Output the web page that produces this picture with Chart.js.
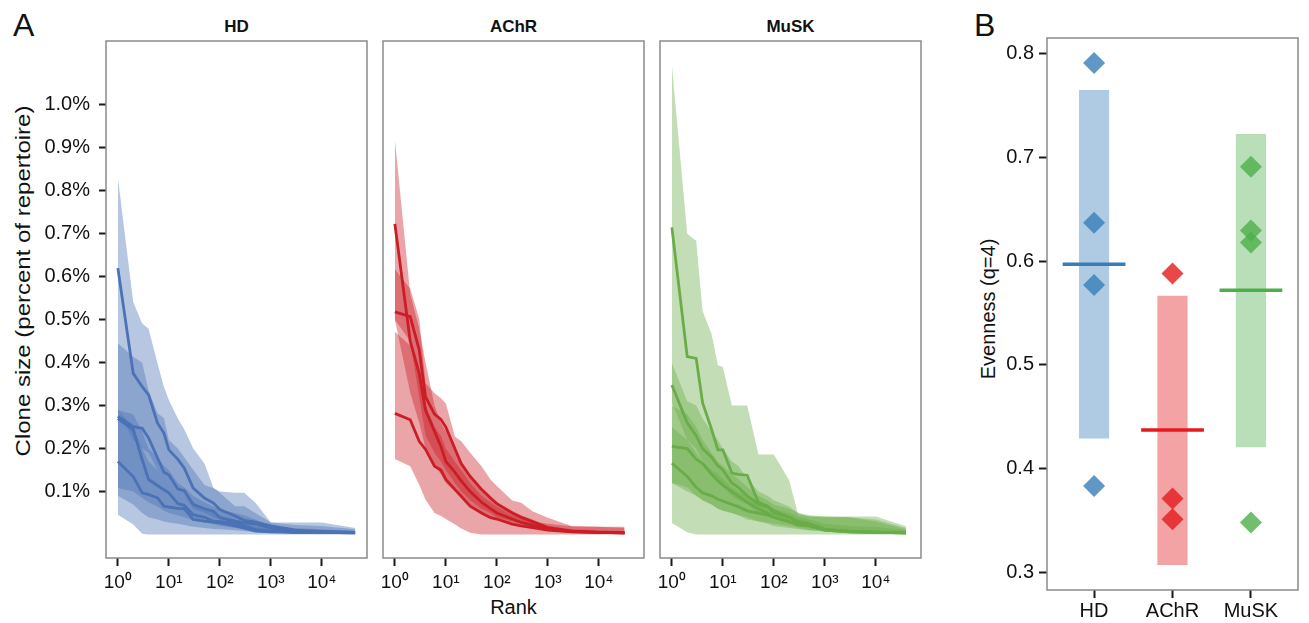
<!DOCTYPE html>
<html>
<head>
<meta charset="utf-8">
<script src="https://cdn.jsdelivr.net/npm/chart.js@4.4.1/dist/chart.umd.min.js"></script>
<style>
  html, body { margin: 0; padding: 0; background: #fff; }
  body { width: 1309px; height: 623px; position: relative; overflow: hidden;
         font-family: "Liberation Sans", Arial, Helvetica, sans-serif; color: #111; }
  .pane { position: absolute; top: 0; }
  .txt { position: absolute; line-height: 1; white-space: nowrap; }
  .strip { position: absolute; top: 18px; font-size: 17px; font-weight: bold; text-align: center; line-height: 1; }
</style>
</head>
<body>
<div class="txt" style="left:13px;top:9px;font-size:32px;">A</div>
<div class="txt" style="left:974px;top:9px;font-size:32px;">B</div>
<div class="strip" style="left:106px;width:261px;">HD</div>
<div class="strip" style="left:383px;width:261px;">AChR</div>
<div class="strip" style="left:660px;width:261px;">MuSK</div>
<div class="txt" style="left:383px;width:261px;top:597px;font-size:20px;text-align:center;">Rank</div>
<div class="txt" style="left:23px;top:281px;font-size:20px;transform:translate(-50%,-50%) rotate(-90deg) scaleX(1.2);">Clone size (percent of repertoire)</div>
<div class="txt" style="left:988px;top:309px;font-size:20px;transform:translate(-50%,-50%) rotate(-90deg);">Evenness (q=4)</div>

<div class="pane" style="left:0px;"><canvas id="hd" width="372" height="623"></canvas></div>
<div class="pane" style="left:372px;"><canvas id="achr" width="277" height="623"></canvas></div>
<div class="pane" style="left:649px;"><canvas id="musk" width="277" height="623"></canvas></div>
<div class="pane" style="left:940px;"><canvas id="even" width="369" height="623"></canvas></div>

<script>
// ---- rank / clone size data (percent of repertoire), one row per subject ----
const rankHD   = [1, 2, 3, 4, 6, 8, 10, 15, 20, 30, 50, 75, 100, 200, 300, 500, 1000, 3000, 10000, 45000];
const rankAChR = [1, 2, 3, 4, 6, 8, 10, 15, 20, 30, 50, 75, 100, 200, 300, 500, 1000, 3000, 10000, 32000];
const rankMuSK = [1, 2, 3, 4, 6, 8, 10, 15, 20, 30, 50, 75, 100, 200, 300, 500, 1000, 3000, 10000, 39000];

const hdSize = [
  [0.620, 0.375, 0.344, 0.325, 0.259, 0.236, 0.197, 0.175, 0.155, 0.108, 0.085, 0.073, 0.058, 0.043, 0.033, 0.029, 0.020, 0.010, 0.007, 0.005],
  [0.275, 0.251, 0.247, 0.225, 0.178, 0.145, 0.139, 0.106, 0.102, 0.070, 0.060, 0.054, 0.039, 0.031, 0.027, 0.025, 0.015, 0.008, 0.006, 0.005],
  [0.270, 0.244, 0.174, 0.128, 0.114, 0.104, 0.097, 0.072, 0.068, 0.046, 0.040, 0.031, 0.030, 0.027, 0.020, 0.012, 0.008, 0.005, 0.005, 0.004],
  [0.170, 0.135, 0.097, 0.093, 0.085, 0.066, 0.064, 0.061, 0.060, 0.035, 0.031, 0.029, 0.027, 0.020, 0.015, 0.008, 0.006, 0.005, 0.005, 0.004]
];
const hdHigh = [
  [0.831, 0.541, 0.491, 0.479, 0.398, 0.344, 0.313, 0.270, 0.245, 0.200, 0.165, 0.108, 0.100, 0.097, 0.097, 0.074, 0.028, 0.028, 0.028, 0.015],
  [0.445, 0.414, 0.400, 0.336, 0.282, 0.271, 0.220, 0.200, 0.180, 0.151, 0.115, 0.108, 0.097, 0.066, 0.066, 0.050, 0.028, 0.022, 0.020, 0.012],
  [0.290, 0.280, 0.240, 0.200, 0.180, 0.160, 0.150, 0.120, 0.110, 0.090, 0.075, 0.065, 0.058, 0.050, 0.045, 0.035, 0.020, 0.015, 0.012, 0.008],
  [0.290, 0.250, 0.200, 0.170, 0.150, 0.130, 0.120, 0.100, 0.090, 0.070, 0.060, 0.050, 0.045, 0.035, 0.030, 0.025, 0.015, 0.010, 0.008, 0.006]
];
const hdLow = [
  [0.290, 0.220, 0.200, 0.190, 0.150, 0.130, 0.120, 0.100, 0.090, 0.060, 0.050, 0.040, 0.035, 0.028, 0.022, 0.015, 0.010, 0.007, 0.005, 0.004],
  [0.108, 0.100, 0.085, 0.075, 0.065, 0.055, 0.050, 0.045, 0.040, 0.032, 0.028, 0.024, 0.020, 0.015, 0.012, 0.010, 0.007, 0.005, 0.004, 0.003],
  [0.090, 0.070, 0.050, 0.040, 0.035, 0.030, 0.028, 0.025, 0.022, 0.018, 0.015, 0.013, 0.012, 0.010, 0.008, 0.006, 0.005, 0.004, 0.003, 0.002],
  [0.046, 0.023, 0.002, 0, 0, 0, 0, 0, 0, 0, 0, 0, 0, 0, 0, 0, 0, 0, 0, 0]
];

const achrSize = [
  [0.723, 0.450, 0.375, 0.289, 0.240, 0.205, 0.170, 0.145, 0.125, 0.100, 0.075, 0.060, 0.050, 0.036, 0.028, 0.022, 0.012, 0.007, 0.005, 0.004],
  [0.518, 0.507, 0.430, 0.320, 0.280, 0.268, 0.250, 0.200, 0.165, 0.135, 0.105, 0.085, 0.072, 0.050, 0.040, 0.030, 0.016, 0.008, 0.005, 0.004],
  [0.282, 0.267, 0.217, 0.198, 0.159, 0.150, 0.128, 0.105, 0.089, 0.066, 0.050, 0.039, 0.036, 0.024, 0.020, 0.016, 0.010, 0.006, 0.005, 0.004]
];
const achrHigh = [
  [0.920, 0.560, 0.480, 0.400, 0.300, 0.260, 0.240, 0.200, 0.170, 0.140, 0.110, 0.090, 0.075, 0.055, 0.045, 0.035, 0.020, 0.012, 0.010, 0.008],
  [0.618, 0.572, 0.503, 0.352, 0.329, 0.317, 0.305, 0.228, 0.217, 0.190, 0.159, 0.128, 0.113, 0.079, 0.074, 0.054, 0.039, 0.019, 0.018, 0.018],
  [0.472, 0.440, 0.380, 0.300, 0.250, 0.230, 0.200, 0.170, 0.150, 0.120, 0.090, 0.075, 0.065, 0.045, 0.040, 0.030, 0.025, 0.019, 0.018, 0.015]
];
const achrLow = [
  [0.500, 0.330, 0.260, 0.200, 0.160, 0.140, 0.120, 0.100, 0.085, 0.065, 0.050, 0.040, 0.035, 0.025, 0.020, 0.015, 0.010, 0.006, 0.004, 0.003],
  [0.500, 0.450, 0.320, 0.230, 0.190, 0.170, 0.150, 0.120, 0.100, 0.080, 0.060, 0.050, 0.040, 0.030, 0.025, 0.018, 0.012, 0.007, 0.005, 0.003],
  [0.176, 0.159, 0.116, 0.081, 0.050, 0.043, 0.036, 0.024, 0.014, 0.004, 0, 0, 0, 0, 0, 0, 0, 0, 0, 0]
];

const muskSize = [
  [0.715, 0.414, 0.410, 0.307, 0.245, 0.197, 0.197, 0.143, 0.140, 0.138, 0.074, 0.066, 0.055, 0.040, 0.030, 0.024, 0.012, 0.008, 0.006, 0.004],
  [0.348, 0.260, 0.230, 0.200, 0.180, 0.160, 0.150, 0.120, 0.110, 0.090, 0.070, 0.065, 0.050, 0.040, 0.030, 0.025, 0.012, 0.007, 0.005, 0.004],
  [0.205, 0.200, 0.175, 0.165, 0.140, 0.125, 0.115, 0.100, 0.090, 0.075, 0.060, 0.050, 0.040, 0.030, 0.022, 0.020, 0.010, 0.006, 0.005, 0.004],
  [0.166, 0.135, 0.110, 0.097, 0.090, 0.082, 0.078, 0.070, 0.065, 0.055, 0.050, 0.045, 0.040, 0.030, 0.025, 0.020, 0.010, 0.006, 0.005, 0.004]
];
const muskHigh = [
  [1.094, 0.700, 0.684, 0.520, 0.467, 0.394, 0.390, 0.300, 0.300, 0.300, 0.186, 0.186, 0.186, 0.126, 0.046, 0.042, 0.042, 0.042, 0.042, 0.019],
  [0.400, 0.310, 0.300, 0.270, 0.240, 0.220, 0.200, 0.170, 0.160, 0.130, 0.100, 0.090, 0.080, 0.065, 0.050, 0.042, 0.040, 0.040, 0.035, 0.015],
  [0.300, 0.280, 0.250, 0.220, 0.190, 0.170, 0.160, 0.140, 0.130, 0.110, 0.090, 0.080, 0.070, 0.060, 0.050, 0.045, 0.042, 0.040, 0.030, 0.012],
  [0.250, 0.220, 0.190, 0.170, 0.150, 0.140, 0.130, 0.110, 0.100, 0.090, 0.080, 0.070, 0.060, 0.050, 0.040, 0.035, 0.025, 0.020, 0.018, 0.010]
];
const muskLow = [
  [0.307, 0.220, 0.200, 0.170, 0.140, 0.120, 0.110, 0.090, 0.080, 0.070, 0.050, 0.045, 0.040, 0.030, 0.020, 0.015, 0.010, 0.007, 0.005, 0.004],
  [0.120, 0.100, 0.090, 0.080, 0.070, 0.060, 0.055, 0.050, 0.045, 0.040, 0.030, 0.028, 0.025, 0.020, 0.015, 0.010, 0.008, 0.006, 0.005, 0.003],
  [0.120, 0.110, 0.090, 0.080, 0.070, 0.060, 0.055, 0.050, 0.045, 0.035, 0.030, 0.025, 0.020, 0.015, 0.012, 0.010, 0.007, 0.005, 0.004, 0.003],
  [0.027, 0.005, 0, 0, 0, 0, 0, 0, 0, 0, 0, 0, 0, 0, 0, 0, 0, 0, 0, 0]
];

const rankTicks = [1, 10, 100, 1000, 10000];
const rankTickLabels = ['10⁰', '10¹', '10²', '10³', '10⁴'];
const sizeTicks = [0.1, 0.2, 0.3, 0.4, 0.5, 0.6, 0.7, 0.8, 0.9, 1.0];

// ---- evenness data ----
const groups = ['HD', 'AChR', 'MuSK'];
const evennessLow = [0.429, 0.307, 0.4205];
const evennessHigh = [0.765, 0.5665, 0.7225];
const evennessMean = [0.597, 0.437, 0.572];
const evennessPoints = [
  [0.791, 0.637, 0.577, 0.383],
  [0.588, 0.371, 0.351],
  [0.691, 0.6295, 0.618, 0.348]
];
const evennessTicks = [0.3, 0.4, 0.5, 0.6, 0.7, 0.8];

const rankRgb = ['74,114,180', '202,30,38', '106,172,72'];
const groupRgb = ['55,126,184', '228,26,28', '77,175,74'];

Chart.defaults.font.family = '"Liberation Sans", Arial, Helvetica, sans-serif';
Chart.defaults.color = '#111';

const frame = {
  id: 'frame',
  afterDraw(chart) {
    const { ctx, chartArea: a } = chart;
    ctx.save();
    ctx.strokeStyle = '#8a8a8a';
    ctx.lineWidth = 1.5;
    ctx.strokeRect(a.left, a.top, a.right - a.left, a.bottom - a.top);
    ctx.restore();
  }
};

// ggplot-like 5% expansion of the data range
const allRanks = [...rankHD, ...rankAChR, ...rankMuSK];
const logMax = Math.log10(Math.max(...allRanks));
const rankMin = Math.pow(10, -0.05 * logMax);
const rankMax = Math.pow(10, logMax * 1.05);
const sizeTop = Math.max(...[hdHigh, achrHigh, muskHigh].flat(2));
const sizeMin = -0.05 * sizeTop;
const sizeMax = sizeTop * 1.05;

function rankSets(rank, size, low, high, rgb) {
  const pts = vals => vals.map((v, i) => ({ x: rank[i], y: v }));
  const sets = [];
  size.forEach((s, k) => {
    sets.push({ data: pts(low[k]), borderColor: 'rgba(0,0,0,0)', borderWidth: 0, pointRadius: 0, fill: false, order: 2 });
    sets.push({ data: pts(high[k]), borderColor: 'rgba(0,0,0,0)', borderWidth: 0, pointRadius: 0,
                fill: '-1', backgroundColor: `rgba(${rgb},0.4)`, order: 2 });
  });
  size.forEach(s => sets.push({ data: pts(s), borderColor: `rgb(${rgb})`, borderWidth: 2.8,
                                pointRadius: 0, fill: false, order: 1 }));
  return sets;
}

const tickGrid = { drawOnChartArea: false, drawTicks: true, tickLength: 7, tickWidth: 2, tickColor: '#1a1a1a' };

function rankChart(id, datasets, showY, pad) {
  return new Chart(document.getElementById(id), {
    type: 'line',
    data: { datasets },
    options: {
      responsive: false, animation: false, devicePixelRatio: 1, events: [],
      layout: { padding: pad },
      plugins: { legend: { display: false }, tooltip: { enabled: false } },
      scales: {
        x: {
          type: 'logarithmic', min: rankMin, max: rankMax, bounds: 'data',
          afterBuildTicks: s => { s.ticks = rankTicks.map(v => ({ value: v })); },
          afterFit: s => { s.height = 50; },
          grid: { ...tickGrid, tickLength: 8 },
          border: { display: false },
          ticks: { callback: (v, i) => rankTickLabels[i], font: { size: 19 }, padding: 5,
                   autoSkip: false, maxRotation: 0, minRotation: 0, color: '#111' }
        },
        y: {
          display: showY, min: sizeMin, max: sizeMax,
          afterBuildTicks: s => { s.ticks = sizeTicks.map(v => ({ value: v })); },
          afterFit: s => { s.width = showY ? 106 : 0; },
          grid: tickGrid,
          border: { display: false },
          ticks: { callback: v => v.toFixed(1) + '%', font: { size: 20 }, padding: 9, color: '#111' }
        }
      }
    },
    plugins: [frame]
  });
}

rankChart('hd', rankSets(rankHD, hdSize, hdLow, hdHigh, rankRgb[0]), true, { left: 0, right: 5, top: 41, bottom: 15 });
rankChart('achr', rankSets(rankAChR, achrSize, achrLow, achrHigh, rankRgb[1]), false, { left: 11, right: 5, top: 41, bottom: 15 });
rankChart('musk', rankSets(rankMuSK, muskSize, muskLow, muskHigh, rankRgb[2]), false, { left: 11, right: 5, top: 41, bottom: 15 });

// ---- panel B ----
const evenAll = [...evennessLow, ...evennessHigh, ...evennessPoints.flat()];
const evenLo = Math.min(...evenAll), evenHi = Math.max(...evenAll);
const evenPad = 0.05 * (evenHi - evenLo);
const meanHalf = 0.4;

const evenSets = [{
  type: 'bar',
  data: groups.map((g, i) => ({ x: i + 1, y: [evennessLow[i], evennessHigh[i]] })),
  backgroundColor: groupRgb.map(c => `rgba(${c},0.4)`),
  borderWidth: 0, barPercentage: 1, categoryPercentage: 0.385, order: 3
}];
groups.forEach((g, i) => evenSets.push({
  type: 'line',
  data: [{ x: i + 1 - meanHalf, y: evennessMean[i] }, { x: i + 1 + meanHalf, y: evennessMean[i] }],
  borderColor: `rgb(${groupRgb[i]})`, borderWidth: 3.5, pointRadius: 0, fill: false, order: 2
}));
groups.forEach((g, i) => evenSets.push({
  type: 'scatter',
  data: evennessPoints[i].map(v => ({ x: i + 1, y: v })),
  pointStyle: 'rectRot', pointRadius: 11, backgroundColor: `rgba(${groupRgb[i]},0.8)`,
  borderWidth: 0, order: 1
}));

new Chart(document.getElementById('even'), {
  type: 'bar',
  data: { datasets: evenSets },
  options: {
    responsive: false, animation: false, devicePixelRatio: 1, events: [],
    layout: { padding: { left: 0, right: 4, top: 38, bottom: 5 } },
    plugins: { legend: { display: false }, tooltip: { enabled: false } },
    scales: {
      x: {
        type: 'linear', min: 0.4, max: groups.length + 0.6, offset: false,
        afterBuildTicks: s => { s.ticks = groups.map((g, i) => ({ value: i + 1 })); },
        afterFit: s => { s.height = 28; },
        grid: { ...tickGrid, offset: false, tickLength: 8 },
        border: { display: false },
        ticks: { callback: (v, i) => groups[i], font: { size: 20 }, padding: 1,
                 autoSkip: false, maxRotation: 0, minRotation: 0, color: '#111' }
      },
      y: {
        min: evenLo - evenPad, max: evenHi + evenPad,
        afterBuildTicks: s => { s.ticks = evennessTicks.map(v => ({ value: v })); },
        afterFit: s => { s.width = 107; },
        grid: { ...tickGrid, tickLength: 8 },
        border: { display: false },
        ticks: { callback: v => v.toFixed(1), font: { size: 20 }, padding: 5, color: '#111' }
      }
    }
  },
  plugins: [frame]
});
</script>
</body>
</html>
